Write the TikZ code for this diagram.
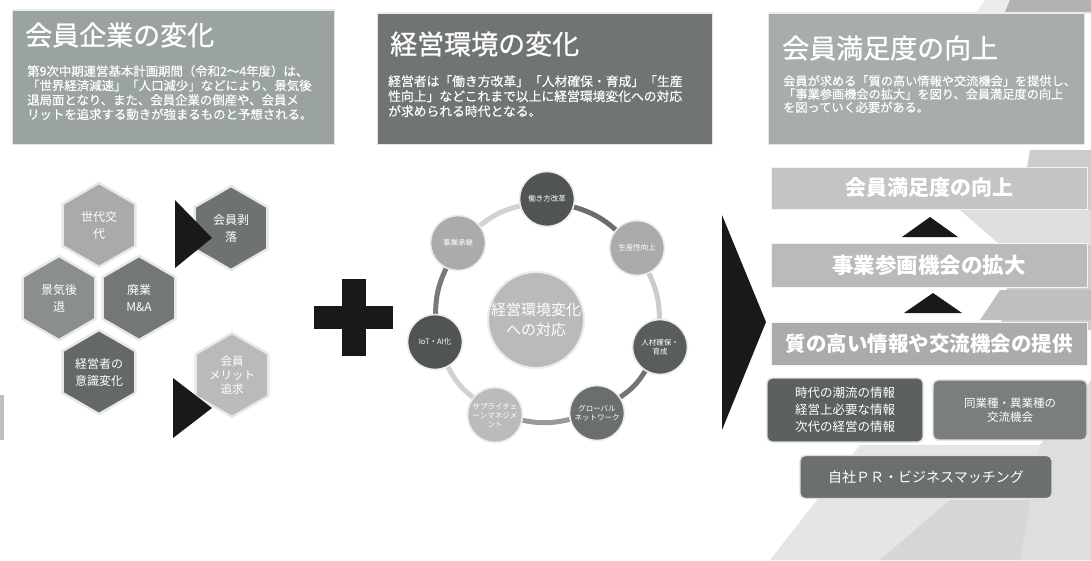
\documentclass[tikz,border=0pt]{standalone}
\usepackage{fontspec}
\setmainfont{Noto Sans CJK JP}
\newfontfamily\medfont[FakeBold=0.9]{Noto Sans CJK JP}
\newfontfamily\lightbold[FakeBold=0.3]{Noto Sans CJK JP}
\usetikzlibrary{shapes.geometric}
\pgfdeclarelayer{deco}
\pgfdeclarelayer{links}
\pgfsetlayers{deco,links,main}
\definecolor{hA}{HTML}{9AA3A1}
\definecolor{hB}{HTML}{707473}
\definecolor{hC}{HTML}{A8ACAB}
\definecolor{xA}{HTML}{A8ABAA}
\definecolor{xB}{HTML}{8A8F8E}
\definecolor{xC}{HTML}{737877}
\definecolor{xD}{HTML}{646968}
\definecolor{xE}{HTML}{6E7372}
\definecolor{xF}{HTML}{B8BBBA}
\definecolor{cDark}{HTML}{505554}
\definecolor{cLight}{HTML}{A9ACAB}
\definecolor{cMid}{HTML}{6A6F6E}
\definecolor{cPale}{HTML}{B9BCBB}
\definecolor{bgA}{HTML}{C3C5C4}
\definecolor{bgB}{HTML}{B9BBBA}
\definecolor{bgC}{HTML}{A9ACAB}
\definecolor{bxA}{HTML}{5C6160}
\definecolor{bxB}{HTML}{7A7E7D}
\definecolor{bxC}{HTML}{6B706F}
\tikzset{
  hdrbox/.style={draw=white!80!gray, line width=1pt},
  ttl/.style={anchor=west, text=white, inner sep=0, font=\medfont\fontsize{27}{30}\selectfont},
  bodytxt/.style={anchor=north west, text=white, align=left, inner sep=0},
  hexa/.style={regular polygon, regular polygon sides=6, shape border rotate=30,
    minimum size=84pt, inner sep=0, draw=white!82!gray, line width=2.4pt, text=white,
    align=center, font=\fontsize{12}{17}\selectfont},
  sat/.style={circle, minimum size=55pt, inner sep=0, draw=white!85!gray, line width=1.6pt,
    text=white, align=center, font=\fontsize{7.5}{9}\selectfont},
  ring/.style={line width=5pt, line cap=round},
  bar/.style={minimum width=316pt, inner sep=0, text=white, draw=white!90!gray, line width=0.8pt},
  infobox/.style={rounded corners=5pt, inner sep=0, text=white, align=center,
    draw=white!75!gray, line width=1.4pt},
  blk/.style={fill=black!90}
}
\begin{document}
\begin{tikzpicture}[x=1pt,y=-1pt]
\useasboundingbox (0,0) rectangle (1091,560);
\begin{pgfonlayer}{deco}
\fill[white] (0,0) rectangle (1091,560);
% right-side decorative background
\fill[gray!15] (985,0) -- (1091,0) -- (1091,14) -- (975,14) -- cycle;
\fill[gray!60] (1010,0) -- (1091,0) -- (1091,12) -- (1005,12) -- cycle;
\fill[gray!40] (1030,150) -- (1091,150) -- (1091,330) -- (1000,330) -- cycle;
\fill[gray!25] (960,210) -- (1091,210) -- (1091,245) -- (1000,245) -- cycle;
\fill[gray!50] (1000,290) -- (1091,290) -- (1091,320) -- (980,320) -- cycle;
\fill[gray!20] (770,560) -- (860,445) -- (1091,445) -- (1091,560) -- cycle;
\fill[gray!32] (880,560) -- (950,500) -- (1091,500) -- (1091,560) -- cycle;
\fill[gray!26] (1040,445) -- (1091,380) -- (1091,560) -- (1020,560) -- cycle;
\fill[gray!50] (0,395) rectangle (4,440);
\end{pgfonlayer}

% header panels
\fill[hA, hdrbox] (12,9) rectangle (334,144);
\draw[white!85!gray, line width=2pt] (12,10) -- (334,10);
\node[ttl] (t1) at (25,35) {会員企業の変化};
\node[bodytxt, font=\lightbold\fontsize{12.4}{14.4}\selectfont] (p1) at (27,65)
  {第9次中期運営基本計画期間（令和2〜4年度）は、\\「世界経済減速」「人口減少」などにより、景気後\\退局面となり、また、会員企業の倒産や、会員メ\\リットを追求する動きが強まるものと予想される。};

\fill[hB, hdrbox] (377,12) rectangle (712,144);
\draw[white!85!gray, line width=2pt] (377,13) -- (712,13);
\node[ttl] (t2) at (390,44) {経営環境の変化};
\node[bodytxt, font=\lightbold\fontsize{12.8}{15}\selectfont] (p2) at (388,75)
  {経営者は「働き方改革」「人材確保・育成」「生産\\性向上」などこれまで以上に経営環境変化への対応\\が求められる時代となる。};

\fill[hC, hdrbox] (768,12) rectangle (1084,144);
\draw[white!85!gray, line width=2pt] (768,13) -- (1084,13);
\node[ttl] (t3) at (782,48) {会員満足度の向上};
\node[bodytxt, font=\lightbold\fontsize{12.2}{13.2}\selectfont] (p3) at (783,75)
  {会員が求める「質の高い情報や交流機会」を提供し、\\「事業参画機会の拡大」を図り、会員満足度の向上\\を図っていく必要がある。};

% hexagons
\node[hexa, fill=xA] (h1) at (99,225) {世代交\\代};
\node[hexa, fill=xB] (h2) at (59,298) {景気後\\退};
\node[hexa, fill=xC] (h3) at (139,298) {廃業\\M\&A};
\node[hexa, fill=xD] (h4) at (99,372) {経営者の\\意識変化};
\node[hexa, fill=xE] (h5) at (231,228) {会員剥\\落};
\node[hexa, fill=xF, font=\fontsize{11.5}{14}\selectfont] (h6) at (232,375) {会員\\メリット\\追求};
\fill[blk] (175,200) -- (212,238) -- (175,268) -- cycle;
\fill[blk] (173,378) -- (212,408) -- (173,438) -- cycle;

% plus sign
\fill[blk] (314,306) rectangle (393,329);
\fill[blk] (342,279) rectangle (366,356);

% cycle
\node[circle, minimum size=92pt, inner sep=0, fill=xF, draw=white!85!gray, line width=2pt,
  text=white, align=center, font=\fontsize{15}{20}\selectfont] (c0) at (536,320) {経営環境変化\\への対応};
\node[sat, fill=cDark] (s1) at (547,199) {働き方改革};
\node[sat, fill=cLight] (s2) at (637,248) {生産性向上};
\node[sat, fill=cDark!95!white] (s3) at (660,347) {人材確保・\\育成};
\node[sat, fill=cMid] (s4) at (597,413) {グローバル\\ネットワーク};
\node[sat, fill=cPale] (s5) at (495,415) {サプライチェ\\ーンマネジメ\\ント};
\node[sat, fill=cDark] (s6) at (435,342) {IoT・AI化};
\node[sat, fill=cLight] (s7) at (458,243) {事業承継};
\begin{pgfonlayer}{links}
\draw[ring, color=gray!85!black] (s1) to[bend left=12] (s2);
\draw[ring, color=gray!40] (s2) to[bend left=12] (s3);
\draw[ring, color=gray!90!black] (s3) to[bend left=12] (s4);
\draw[ring, color=gray!80] (s4) to[bend left=12] (s5);
\draw[ring, color=gray!35] (s5) to[bend left=12] (s6);
\draw[ring, color=gray!95!black] (s6) to[bend left=12] (s7);
\draw[ring, color=gray!35] (s7) to[bend left=12] (s1);
\end{pgfonlayer}

% big arrow
\fill[blk] (722,215) -- (766,322) -- (722,430) -- cycle;

% right column bars
\node[bar, fill=bgA, minimum height=42pt, font=\fontsize{21}{24}\selectfont\bfseries] (b1) at (929,188) {会員満足度の向上};
\node[bar, fill=bgB, minimum height=44pt, font=\fontsize{21.5}{24}\selectfont\bfseries] (b2) at (929,265) {事業参画機会の拡大};
\node[bar, fill=bgC, minimum height=43pt, font=\fontsize{20.5}{24}\selectfont\bfseries] (b3) at (929,344) {質の高い情報や交流機会の提供};
\fill[blk] (902,237) -- (930,217) -- (958,237) -- cycle;
\fill[blk] (904,313) -- (933,293) -- (962,313) -- cycle;

\node[infobox, fill=bxA, minimum width=156pt, minimum height=64pt, font=\fontsize{12.5}{17}\selectfont] (bA) at (845,410)
  {時代の潮流の情報\\経営上必要な情報\\次代の経営の情報};
\node[infobox, fill=bxB, minimum width=154pt, minimum height=60pt, font=\fontsize{11.5}{14}\selectfont] (bB) at (1010,410)
  {同業種・異業種の\\交流機会};
\node[infobox, fill=bxC, minimum width=252pt, minimum height=43pt, font=\fontsize{14}{16}\selectfont] (bC) at (926,477)
  {自社ＰＲ・ビジネスマッチング};
\end{tikzpicture}
\end{document}
